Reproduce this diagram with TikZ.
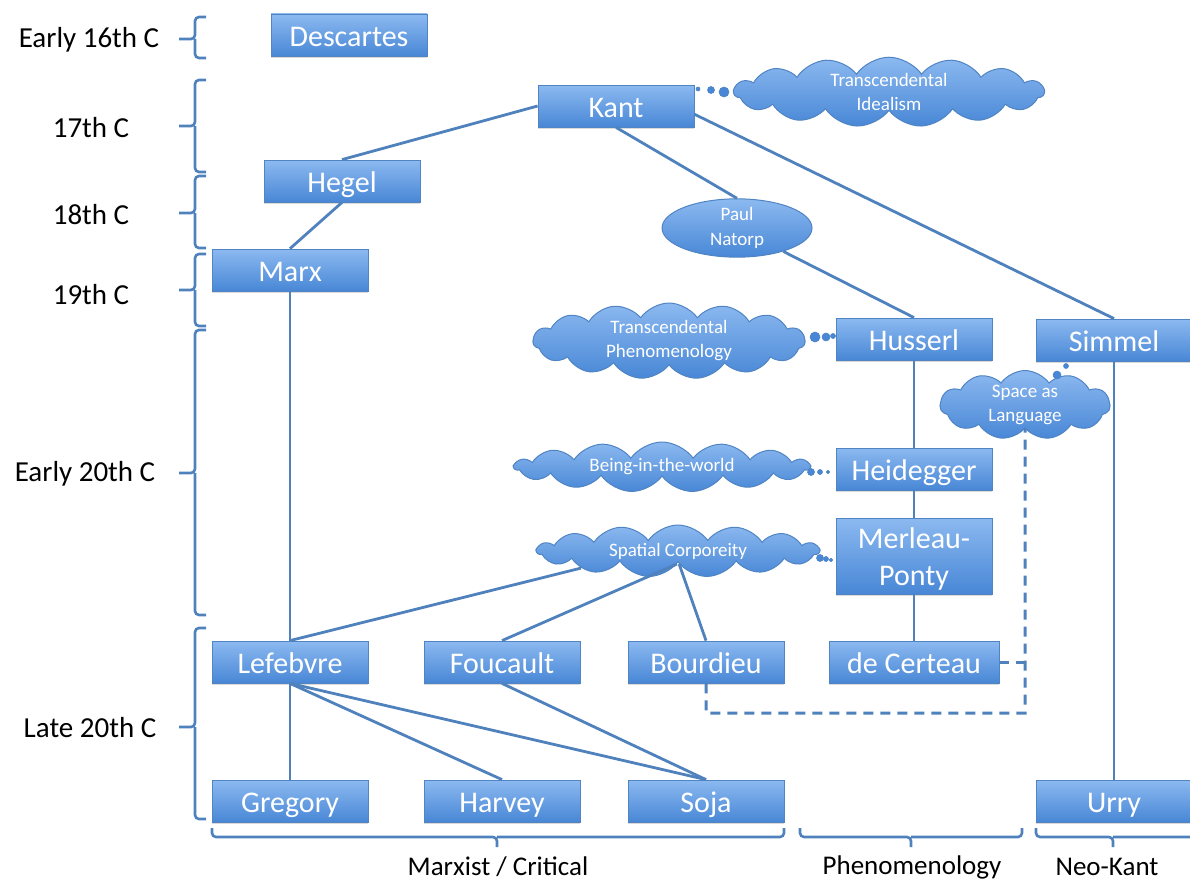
\documentclass[tikz,border=0pt]{standalone}
\usepackage{fontspec}
\setmainfont{Carlito}
\usetikzlibrary{shapes.symbols,shapes.geometric,shadows,calc}
\definecolor{lineblue}{RGB}{79,129,189}
\definecolor{boxtop}{RGB}{140,185,240}
\definecolor{boxbot}{RGB}{72,135,214}
\definecolor{boxedge}{RGB}{80,132,195}
\begin{document}
\begin{tikzpicture}[x=1pt,y=-1pt,
  box/.style={rectangle, draw=boxedge, line width=0.8pt, top color=boxtop, bottom color=boxbot,
    minimum width=156pt, minimum height=42pt, inner sep=0pt, text=white,
    text height=24pt, text depth=2pt,
    font=\fontsize{30}{37}\selectfont, align=center,
    drop shadow={opacity=0.3, shadow xshift=0pt, shadow yshift=-2pt}},
  boxtext/.style={inner sep=0pt, text=white, font=\fontsize{30}{37}\selectfont, align=center},
  thought/.style={cloud, cloud puffs=15, cloud puff arc=110, cloud ignores aspect,
    draw=boxedge, line width=1pt, top color=boxtop, bottom color=boxbot, inner sep=0pt,
    text=white, align=center, font=\fontsize{19}{24}\selectfont},
  bubble/.style={ellipse, draw=boxedge, line width=1pt, top color=boxtop, bottom color=boxbot,
    inner sep=0pt, text=white, align=center, font=\fontsize{19}{25}\selectfont},
  conn/.style={draw=lineblue, line width=2.8pt},
  dashconn/.style={draw=lineblue, line width=3pt, dash pattern=on 10pt off 7pt},
  era/.style={draw=lineblue, line width=2.6pt, rounded corners=4pt},
  lab/.style={font=\fontsize{29}{30}\selectfont, text=black, inner sep=0pt},
  grp/.style={font=\fontsize{27}{30}\selectfont, text=black, inner sep=0pt},
  dot/.style={fill=boxbot, draw=boxedge, line width=0.6pt}
]
\useasboundingbox (0,0) rectangle (1190,883);

% era labels and braces
\node[lab] (e16) at (89,40) {Early 16th C};
\node[lab] (e17) at (91,128) {17th C};
\node[lab] (e18) at (91,215) {18th C};
\node[lab] (e19) at (91,295) {19th C};
\node[lab] (e20) at (85,474) {Early 20th C};
\node[lab] (l20) at (90,728) {Late 20th C};
\foreach \t/\m/\b in {17/39/58, 80/126/172, 176/213/248, 254/290/326, 330/473/615, 628/727/819}{
  \draw[era] (206,\t) -| (195,\m) -- (179,\m) (195,\m) |- (206,\b);
}

% group braces and labels
\foreach \l/\m/\r in {212/497/784, 800/911/1022, 1036/1113/1205}{
  \draw[era] (\l,828) |- (\m,837) -- (\m,847) (\m,837) -| (\r,828);
}
\node[grp] (marxist) at (498,867) {Marxist / Critical};
\node[grp] (phen) at (912,867) {Phenomenology};
\node[grp] (neokant) at (1107,867) {Neo-Kant};

% philosophers
\node[box] (descartes) at (349,35) {Descartes};
\node[box] (kant) at (616,106) {Kant};
\node[box] (hegel) at (342,181) {Hegel};
\node[box] (marx) at (290,270) {Marx};
\node[box] (husserl) at (914,339) {Husserl};
\node[box] (simmel) at (1114,340) {Simmel};
\node[box] (heidegger) at (914,469) {Heidegger};
\node[box, minimum height=76pt] (merleau) at (914,556) {};
\node[boxtext] (merleautext) at (914,559) {Merleau-\\Ponty};
\node[box] (lefebvre) at (290,662) {Lefebvre};
\node[box] (foucault) at (502,662) {Foucault};
\node[box] (bourdieu) at (706,662) {Bourdieu};
\node[box, minimum width=170pt] (certeau) at (914,662) {de Certeau};
\node[box] (gregory) at (290,801) {Gregory};
\node[box] (harvey) at (502,801) {Harvey};
\node[box] (soja) at (706,801) {Soja};
\node[box] (urry) at (1114,801) {Urry};

% concepts
\node[thought, minimum width=310pt, minimum height=66pt] (tideal) at (889,92) {Transcendental\\Idealism};
\node[bubble, minimum width=150pt, minimum height=56pt] (natorp) at (737,228) {Paul\\Natorp};
\node[thought, minimum width=272pt, minimum height=76pt] (tphen) at (669,341) {Transcendental\\Phenomenology};
\node[thought, minimum width=295pt, minimum height=50pt] (being) at (662,467) {Being-in-the-world};
\node[thought, minimum width=282pt, minimum height=52pt] (spatial) at (678,551) {Spatial Corporeity};
\node[thought, cloud puffs=11, minimum width=170pt, minimum height=54pt] (space) at (1025,405) {Space as\\Language};

% thought dots
\fill[dot] (698,89) circle (2);
\fill[dot] (711,90) circle (3.5);
\fill[dot] (724,92) circle (5);
\fill[dot] (815,337) circle (5);
\fill[dot] (826,337) circle (4);
\fill[dot] (833,336) circle (2.5);
\fill[dot] (811,472) circle (3.5);
\fill[dot] (820,472) circle (2.5);
\fill[dot] (828,472) circle (1.8);
\fill[dot] (820,558) circle (3.5);
\fill[dot] (826,559) circle (2.5);
\fill[dot] (831,560) circle (1.8);
\fill[dot] (1057,375) circle (4);
\fill[dot] (1066,366) circle (2.5);

% connectors
\draw[conn] (kant.west) -- (hegel.north);
\draw[conn] (hegel.south) -- (marx.north);
\draw[conn] (kant.south) -- (natorp.north);
\draw[conn] (natorp) -- (husserl.north);
\draw[conn] (kant.-6) -- (simmel.north);
\draw[conn] (marx.south) -- (lefebvre.north);
\draw[conn] (husserl.south) -- (heidegger.north);
\draw[conn] (heidegger.south) -- (merleau.north);
\draw[conn] (merleau.south) -- (certeau.north);
\draw[conn] (simmel.south) -- (urry.north);
\draw[conn] (spatial.190) -- (lefebvre.north);
\draw[conn] (spatial.-95) -- (foucault.north);
\draw[conn] (spatial.-85) -- (bourdieu.north);
\draw[conn] (lefebvre.south) -- (gregory.north);
\draw[conn] (lefebvre.south) -- (harvey.north);
\draw[conn] (lefebvre.south) -- (soja.north);
\draw[conn] (foucault.south) -- (soja.north);
\coordinate (dc) at (1025,713);
\draw[dashconn] (bourdieu.south) |- (dc) -- (space.south);
\draw[dashconn] (certeau.east) -- (certeau.east -| dc);
\end{tikzpicture}
\end{document}
